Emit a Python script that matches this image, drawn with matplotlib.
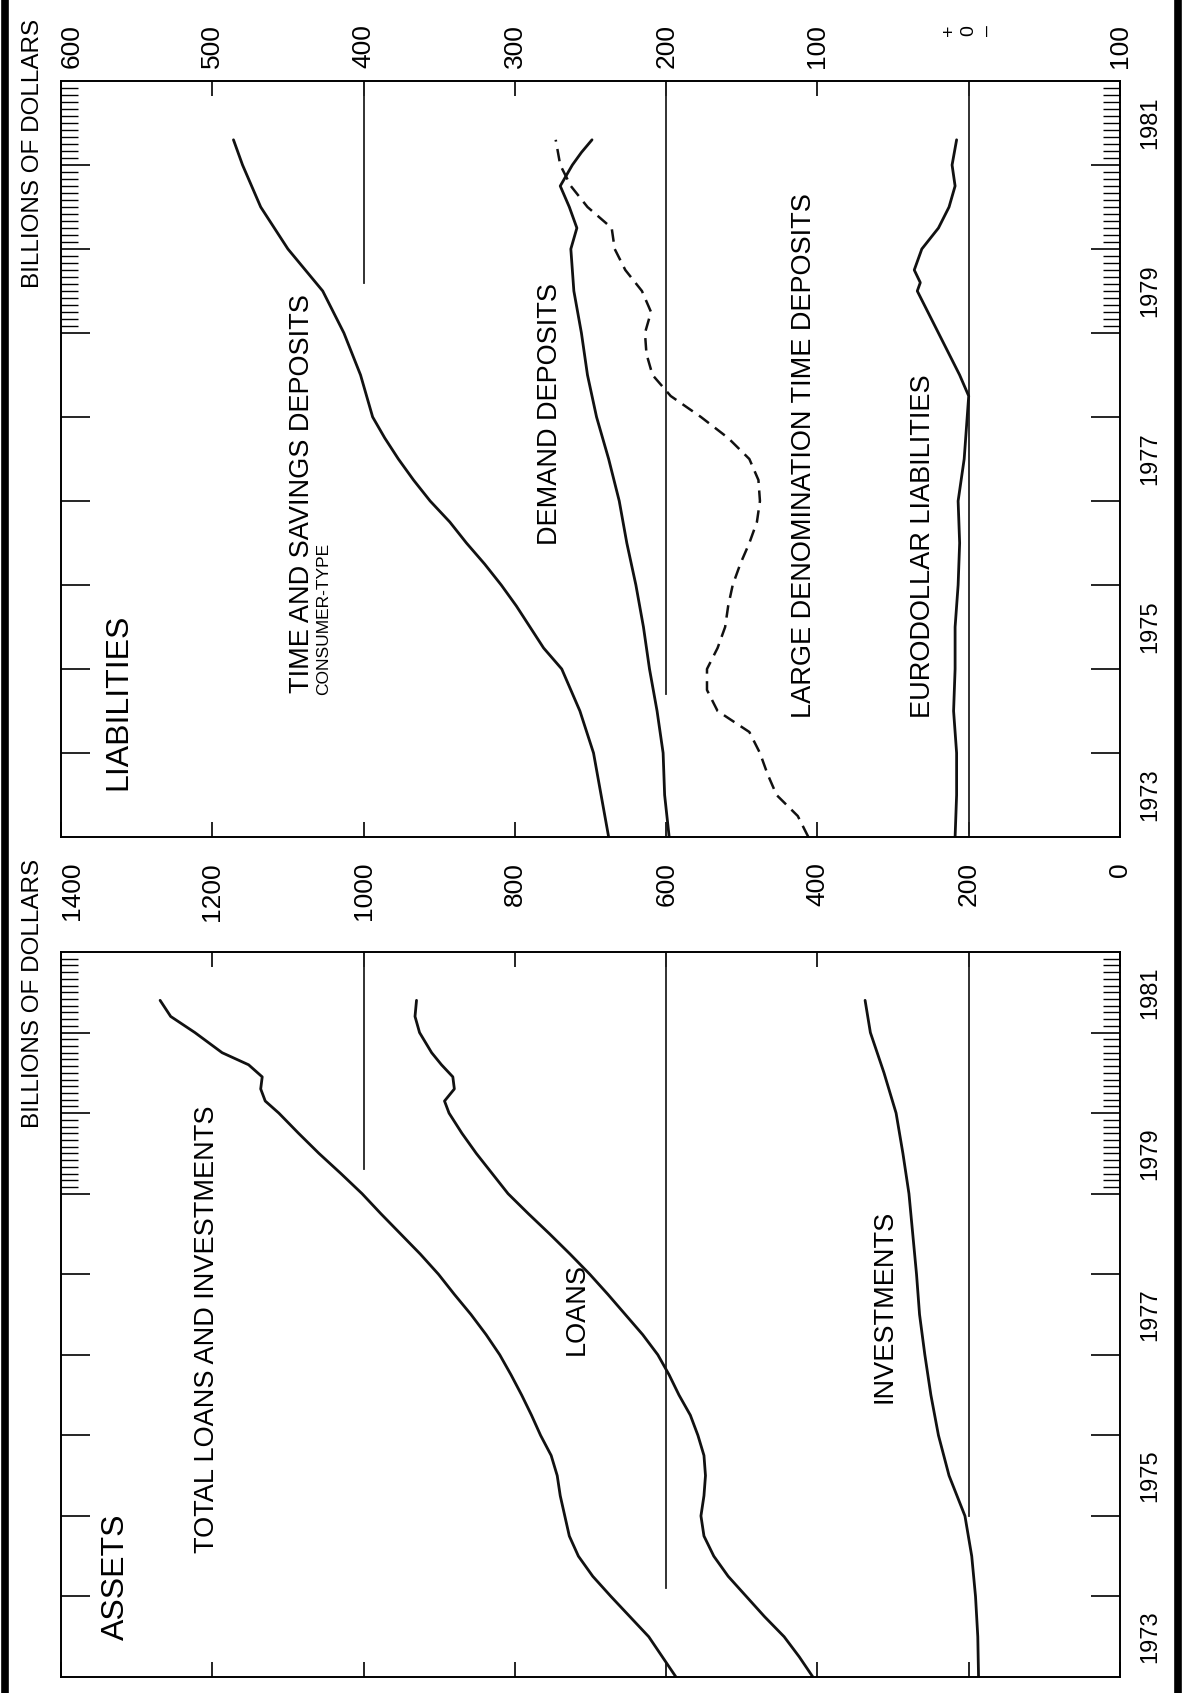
import matplotlib
matplotlib.use('Agg')
import matplotlib.pyplot as plt
import matplotlib.transforms as mtrans
from matplotlib.lines import Line2D

# --- assets panel (billions of dollars) ---
t_total = [1973.0, 1973.25, 1973.5, 1973.75, 1974.0, 1974.25, 1974.5, 1974.75,
           1975.0, 1975.25, 1975.5, 1975.75, 1976.0, 1976.25, 1976.5, 1976.75,
           1977.0, 1977.25, 1977.5, 1977.75, 1978.0, 1978.25, 1978.5, 1978.75,
           1979.0, 1979.25, 1979.5, 1979.75, 1980.0, 1980.15, 1980.3, 1980.45,
           1980.6, 1980.75, 1981.0, 1981.2, 1981.4]
total_li = [587, 605, 623, 648, 673, 697, 716, 728,
            734, 740, 744, 752, 766, 778, 791, 805,
            820, 838, 858, 880, 901, 925, 951, 977,
            1002, 1030, 1059, 1086, 1112, 1130, 1136, 1134,
            1152, 1187, 1223, 1255, 1269]
loans = [406, 424, 444, 470, 494, 518, 537, 550,
         554, 550, 548, 550, 558, 568, 583, 596,
         611, 631, 654, 677, 701, 727, 754, 782,
         809, 830, 851, 870, 887, 893, 880, 882,
         897, 910, 926, 932, 930]
t_inv = [1973.0, 1973.5, 1974.0, 1974.5, 1975.0, 1975.5, 1976.0, 1976.5, 1977.0,
         1977.5, 1978.0, 1978.5, 1979.0, 1979.5, 1980.0, 1980.5, 1981.0, 1981.4]
investments = [187, 188, 191, 196, 205, 226, 240, 250, 258,
               265, 269, 274, 279, 287, 296, 312, 330, 337]

# --- liabilities panel (billions of dollars) ---
t_tsd = [1973.0, 1973.5, 1974.0, 1974.5, 1975.0, 1975.25, 1975.5, 1975.75,
         1976.0, 1976.25, 1976.5, 1976.75, 1977.0, 1977.25, 1977.5, 1977.75,
         1978.0, 1978.5, 1979.0, 1979.5, 1980.0, 1980.5, 1981.0, 1981.3]
tsd = [238, 243, 248, 257, 269, 281, 290, 299,
       309, 320, 332, 343, 356, 367, 377, 386,
       394, 402, 413, 427, 450, 468, 480, 486]
t_dd = [1973.0, 1973.5, 1974.0, 1974.5, 1975.0, 1975.5, 1976.0, 1976.5, 1977.0,
        1977.5, 1978.0, 1978.5, 1979.0, 1979.5, 1980.0, 1980.25, 1980.5, 1980.75,
        1981.0, 1981.15, 1981.3]
demand = [198, 201, 202, 206, 211, 215, 220, 226, 231,
          238, 246, 252, 256, 261, 263, 259, 264, 270,
          262, 256, 249]
t_cd = [1973.0, 1973.25, 1973.5, 1973.75, 1974.0, 1974.25, 1974.5, 1974.75,
        1975.0, 1975.25, 1975.5, 1975.75, 1976.0, 1976.25, 1976.5, 1976.75,
        1977.0, 1977.25, 1977.5, 1977.75, 1978.0, 1978.25, 1978.5, 1978.75,
        1979.0, 1979.25, 1979.5, 1979.75, 1980.0, 1980.25, 1980.5, 1980.75,
        1981.0, 1981.3]
large_cd = [106, 113, 127, 133, 138, 145, 166, 173,
            173, 166, 161, 159, 156, 151, 145, 140,
            138, 139, 145, 159, 177, 197, 209, 213,
            214, 210, 216, 227, 234, 236, 252, 263,
            270, 273]
t_euro = [1973.0, 1973.5, 1974.0, 1974.5, 1975.0, 1975.5, 1976.0, 1976.5, 1977.0,
          1977.5, 1978.0, 1978.25, 1978.5, 1978.75, 1979.0, 1979.25, 1979.5,
          1979.6, 1979.75, 1980.0, 1980.25, 1980.5, 1980.75, 1981.0, 1981.3]
eurodollar = [9, 8, 8, 10, 9, 9, 7, 6, 7,
              3, 1, 0, 6, 13, 20, 27, 34,
              32, 36, 31, 20, 13, 9, 11, 8]

liab_ticks = [600, 500, 400, 300, 200, 100, 0, -100]
liab_labels = ['600', '500', '400', '300', '200', '100', '0', '100']
asset_ticks = [1400, 1200, 1000, 800, 600, 400, 200, 0]
asset_labels = ['1400', '1200', '1000', '800', '600', '400', '200', '0']
year_labels = [1973, 1975, 1977, 1979, 1981]

W, H = 1184, 1693
SANS = ['Liberation Sans', 'DejaVu Sans']
plt.rcParams['font.family'] = SANS

fig = plt.figure(figsize=(W / 100, H / 100), dpi=100)
fig.patch.set_facecolor('white')


def box(x0, y0, x1, y1):
    return [x0 / W, 1 - y1 / H, (x1 - x0) / W, (y1 - y0) / H]


def ftext(x, y, s, **kw):
    kw.setdefault('rotation', 90)
    kw.setdefault('ha', 'center')
    return fig.text(x / W, 1 - y / H, s, **kw)


def setup(ax, ticks, labels, lab_top):
    ax.set_xlim(ticks[0], ticks[-1])
    ax.set_ylim(1973, 1982)
    for sp in ax.spines.values():
        sp.set_linewidth(1.4)
    ax.set_xticks(ticks)
    ax.tick_params(axis='x', which='major', direction='in', top=True, bottom=True,
                   length=11, width=1.2, labelbottom=False, labeltop=False)
    ax.set_yticks(range(1974, 1982))
    months = [1979 + m / 12 for m in range(1, 36) if m % 12 != 0]
    ax.set_yticks(months, minor=True)
    ax.tick_params(axis='y', which='major', direction='in', left=True, right=True,
                   length=21, width=1.2, labelleft=False, labelright=False)
    ax.tick_params(axis='y', which='minor', direction='in', left=True, right=True,
                   length=12, width=1.0)
    trans = mtrans.blended_transform_factory(ax.transData, fig.transFigure)
    for i, (v, s) in enumerate(zip(ticks, labels)):
        off = 11 if i == 0 else 0
        tr = mtrans.offset_copy(trans, fig=fig, x=off, y=0, units='dots')
        if s == '0' and ticks[-1] < 0:
            # stacked "+ 0 -" marker of the zero line
            for dx, ch in [(-19, '+'), (0, '0'), (19, '\u2013')]:
                tr2 = mtrans.offset_copy(trans, fig=fig, x=dx, y=0, units='dots')
                ax.text(v, 1 - 25 / H, ch, transform=tr2, rotation=90, ha='center',
                        va='top', fontsize=14, family=SANS)
            continue
        ax.text(v, 1 - lab_top / H, s, transform=tr, rotation=90, ha='center',
                va='top', fontsize=19, family=SANS)
    ytr = ax.get_yaxis_transform()
    for yr in year_labels:
        ax.text(1.029, yr + 0.5, str(yr), transform=ytr, rotation=90, ha='center',
                va='center', fontsize=17, family=SANS, clip_on=False)


line_kw = dict(color='#111111', lw=2.0, solid_capstyle='round')
grid_kw = dict(color='#222222', lw=1.3)

# liabilities panel
axL = fig.add_axes(box(61, 81, 1120, 837))
setup(axL, liab_ticks, liab_labels, 24)
axL.plot([400, 400], [1979.6, 1982], **grid_kw)
axL.plot([200, 200], [1974.7, 1982], **grid_kw)
axL.plot([0, 0], [1973.05, 1982], **grid_kw)
axL.plot(tsd, t_tsd, **line_kw)
axL.plot(demand, t_dd, **line_kw)
axL.plot(large_cd, t_cd, color='#111111', lw=1.8, ls=(0, (5, 3)))
axL.plot(eurodollar, t_euro, **line_kw)

# assets panel
axA = fig.add_axes(box(61, 952, 1120, 1677))
setup(axA, asset_ticks, asset_labels, 862)
axA.plot([1000, 1000], [1979.3, 1982], **grid_kw)
axA.plot([600, 600], [1974.1, 1982], **grid_kw)
axA.plot([200, 200], [1975.0, 1982], **grid_kw)
axA.plot(total_li, t_total, **line_kw)
axA.plot(loans, t_total, **line_kw)
axA.plot(investments, t_inv, **line_kw)

# texts
big = dict(fontsize=23, va='bottom')
lab = dict(fontsize=19.5, va='bottom')
ftext(118, 790, 'LIABILITIES', **big)
ftext(302, 693, 'TIME AND SAVINGS DEPOSITS', **lab)
ftext(324, 695, 'CONSUMER-TYPE', fontsize=12.5, va='bottom')
ftext(550, 545, 'DEMAND DEPOSITS', **lab)
ftext(804, 718, 'LARGE DENOMINATION TIME DEPOSITS', **lab)
ftext(923, 718, 'EURODOLLAR LIABILITIES', **lab)
ftext(116, 1640, 'ASSETS', **big)
ftext(207, 1553, 'TOTAL LOANS AND INVESTMENTS', **lab)
ftext(577, 1355, 'LOANS', **lab)
ftext(885, 1403, 'INVESTMENTS', **lab)
ftext(33, 19, 'BILLIONS OF DOLLARS', fontsize=17.5, va='top')
ftext(33, 859, 'BILLIONS OF DOLLARS', fontsize=17.5, va='top')

# heavy side rules of the page
fig.add_artist(Line2D([5 / W, 5 / W], [0, 1], color='black', lw=5.5))
fig.add_artist(Line2D([1178 / W, 1178 / W], [0, 1], color='black', lw=5.5))

fig.savefig('out.png', dpi=100)
